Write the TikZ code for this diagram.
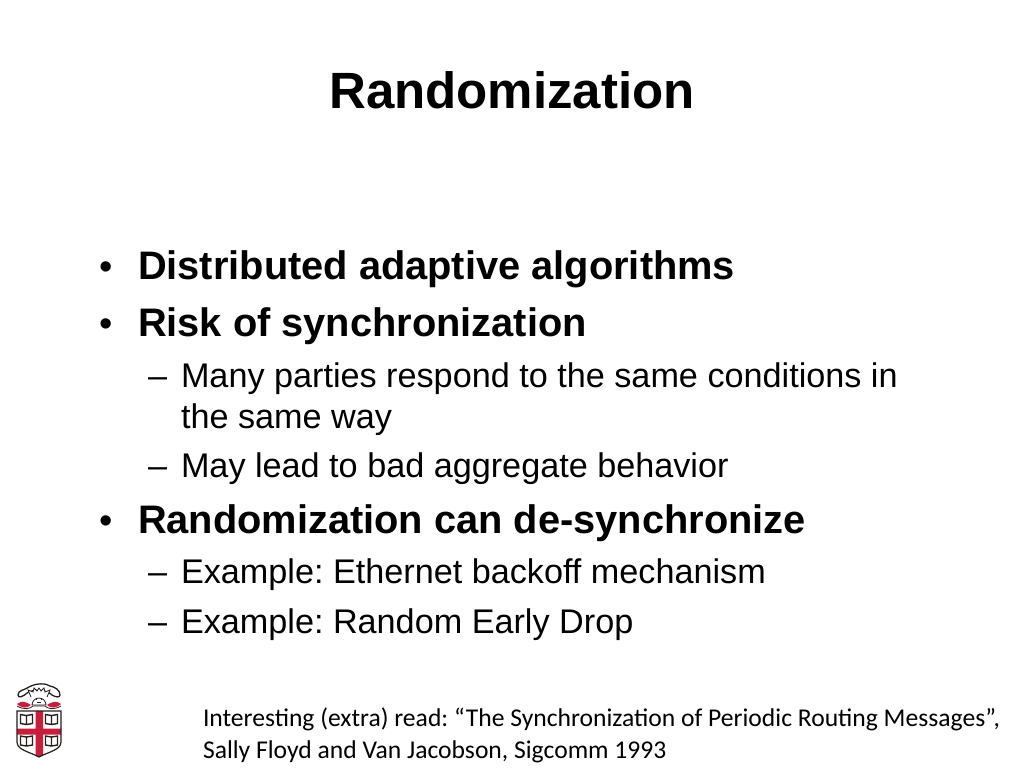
\documentclass[tikz,border=0pt]{standalone}
\usepackage{fontspec}
\setmainfont{Liberation Sans}
\newfontfamily\carl{Carlito}
\definecolor{brownred}{RGB}{200,30,60}
\definecolor{crestdark}{RGB}{40,30,30}
\tikzset{
 base/.style={anchor=base west,inner sep=0pt,outer sep=0pt,text=black},
 bold/.style={base,font=\frenchspacing\fontsize{39.8}{39.8}\selectfont\bfseries},
 bmark/.style={base,font=\fontsize{38}{38}\selectfont},
 sub/.style={base,font=\frenchspacing\fontsize{34.2}{34.2}\selectfont},
 note/.style={base,font=\frenchspacing\carl\fontsize{25.6}{25.6}\selectfont},
 ttl/.style={anchor=base,inner sep=0pt,font=\fontsize{51}{51}\selectfont\bfseries},
 crest/.style={draw=crestdark,line width=1.1pt},
 cr/.style={fill=brownred,draw=none}
}
\begin{document}
\begin{tikzpicture}[x=1pt,y=-1pt]
\useasboundingbox[fill=white] (0,0) rectangle (1024,768);
\node[ttl] (title) at (512,108) {Randomization};
\node[bmark] (b1m) at (99,279) {•};
\node[bold] (b1) at (138,279) {Distributed adaptive algorithms};
\node[bmark] (b2m) at (99,336) {•};
\node[bold] (b2) at (138,336) {Risk of synchronization};
\node[sub] (s1m) at (148,387) {–};
\node[sub] (s1) at (181,387) {Many parties respond to the same conditions in};
\node[sub] (s1b) at (181,428) {the same way};
\node[sub] (s2m) at (148,477) {–};
\node[sub] (s2) at (181,477) {May lead to bad aggregate behavior};
\node[bmark] (b3m) at (99,533) {•};
\node[bold] (b3) at (138,533) {Randomization can de-synchronize};
\node[sub] (s3m) at (148,583) {–};
\node[sub] (s3) at (181,583) {Example: Ethernet backoff mechanism};
\node[sub] (s4m) at (148,633) {–};
\node[sub] (s4) at (181,633) {Example: Random Early Drop};
\node[note] (n1) at (203,726) {Interesting (extra) read: “The Synchronization of Periodic Routing Messages”,};
\node[note] (n2) at (203,758) {Sally Floyd and Van Jacobson, Sigcomm 1993};
% crest: cloud
\draw[crest,fill=white,line width=1.3pt] (18,695) .. controls (18,690) and (25,690) .. (29,687) .. controls (36,683) and (46,683) .. (50,686) .. controls (55,687) and (60,690) .. (60,695) .. controls (60,698) and (55,697) .. (52,695) .. controls (46,689) and (33,689) .. (27,693) .. controls (24,696) and (18,699) .. (18,695) -- cycle;
% sun
\draw[crest,fill=white,line width=.8pt] (31,697) -- (28,690) -- (33,692) -- (34,688) -- (37,691) -- (39,688) -- (41,691) -- (44,688) -- (45,692) -- (50,690) -- (47,697);
\draw[crest,fill=white,line width=.8pt] (32,705) arc (180:360:7) -- cycle;
\draw[crest,line width=.7pt] (36,699)--(37,699) (41,699)--(42,699) (37,702)--(41,702);
% wavy band
\draw[cr] (17,704) .. controls (22,700) and (26,702) .. (31,705) .. controls (27,709) and (21,708) .. (17,704) -- cycle;
\draw[cr] (47,705) .. controls (52,702) and (56,700) .. (61,704) .. controls (57,708) and (51,709) .. (47,705) -- cycle;
\draw[crest,line width=.8pt] (17,706) .. controls (24,710) and (30,709) .. (33,706) -- (45,706) .. controls (48,709) and (54,710) .. (61,706);
% shield
\path[fill=white] (17,711) -- (61,711) -- (61,742) .. controls (61,750) and (48,752) .. (39,757) .. controls (30,752) and (17,750) .. (17,742) -- cycle;
\fill[brownred] (35.5,711) rectangle (43,756) (17,728.5) rectangle (61,734.5);
\draw[crest,line width=1.2pt] (17,711) -- (61,711) -- (61,742) .. controls (61,750) and (48,752) .. (39,757) .. controls (30,752) and (17,750) .. (17,742) -- cycle;
\foreach \cx/\cy in {26.5/719.5,51.5/719.5,26.5/741,51.5/741}{
 \draw[crest,fill=white,line width=1.4pt] (\cx-6,\cy-5) -- (\cx,\cy-4) -- (\cx+6,\cy-5) -- (\cx+6,\cy+4) -- (\cx,\cy+5) -- (\cx-6,\cy+4) -- cycle (\cx,\cy-4) -- (\cx,\cy+5);
}
\end{tikzpicture}
\end{document}
